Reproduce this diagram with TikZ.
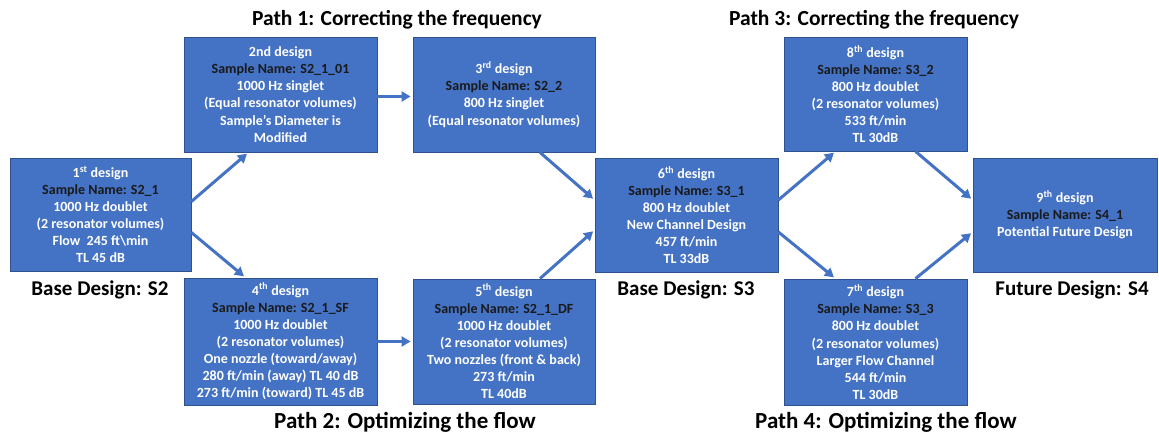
\documentclass[tikz,border=0pt]{standalone}
\usepackage{fontspec}
\setmainfont{Carlito}
\usepackage{tikz}
\usetikzlibrary{arrows.meta}

\definecolor{boxblue}{HTML}{4472C4}
\definecolor{boxedge}{HTML}{2F528F}
\definecolor{namedark}{HTML}{1A1A1A}

\newcommand{\sname}[1]{{\color{namedark}Sample Name: #1}}

\tikzset{
  design/.style={draw=boxedge, fill=boxblue, line width=0.8pt, text=white,
    font=\bfseries\fontsize{14}{17.1}\selectfont, align=center, inner sep=0pt},
  flow/.style={draw=boxblue, line width=3pt, shorten >=2pt, -{Triangle[length=9pt,width=10pt]}},
  bigtitle/.style={font=\bfseries\fontsize{21}{25}\selectfont},
  pathtitle/.style={font=\bfseries\fontsize{21.5}{25}\selectfont},
  lowtitle/.style={font=\bfseries\fontsize{23}{27}\selectfont}
}

\begin{document}
\begin{tikzpicture}[x=1pt,y=-1pt]
  \useasboundingbox (0,0) rectangle (1159,435);

  % Base design S2
  \node[design, minimum width=181pt, minimum height=113pt] (d1) at (100.5,214.5)
    {1\textsuperscript{st} design\\ \sname{S2\_1}\\ 1000 Hz doublet\\ (2 resonator volumes)\\ Flow\ \ 245 ft\textbackslash min\\ TL 45 dB};
  \node[bigtitle] (lblS2) at (100,290) {Base Design: S2};

  % Path 1
  \node[design, minimum width=193pt, minimum height=115pt] (d2) at (280.5,94.5)
    {2nd design\\ \sname{S2\_1\_01}\\ 1000 Hz singlet\\ (Equal resonator volumes)\\ Sample’s Diameter is\\ Modified};
  \node[design, minimum width=182pt, minimum height=115pt] (d3) at (504,94.5)
    {3\textsuperscript{rd} design\\ \sname{S2\_2}\\ 800 Hz singlet\\ (Equal resonator volumes)};
  \node[pathtitle] (lblP1) at (397,20) {Path 1: Correcting the frequency};

  % Path 2
  \node[design, minimum width=193pt, minimum height=127pt] (d4) at (280.5,341.5)
    {4\textsuperscript{th} design\\ \sname{S2\_1\_SF}\\ 1000 Hz doublet\\ (2 resonator volumes)\\ One nozzle (toward/away)\\ 280 ft/min (away) TL 40 dB\\ 273 ft/min (toward) TL 45 dB};
  \node[design, minimum width=182pt, minimum height=125pt] (d5) at (504,341.5)
    {5\textsuperscript{th} design\\ \sname{S2\_1\_DF}\\ 1000 Hz doublet\\ (2 resonator volumes)\\ Two nozzles (front \& back)\\ 273 ft/min\\ TL 40dB};
  \node[lowtitle] (lblP2) at (405,422) {Path 2: Optimizing the flow};

  % Base design S3
  \node[design, minimum width=183pt, minimum height=114pt] (d6) at (686.5,215)
    {6\textsuperscript{th} design\\ \sname{S3\_1}\\ 800 Hz doublet\\ New Channel Design\\ 457 ft/min\\ TL 33dB};
  \node[bigtitle] (lblS3) at (686,290) {Base Design: S3};

  % Path 3 and path 4
  \node[design, minimum width=183pt, minimum height=114pt] (d8) at (875.5,94)
    {8\textsuperscript{th} design\\ \sname{S3\_2}\\ 800 Hz doublet\\ (2 resonator volumes)\\ 533 ft/min\\ TL 30dB};
  \node[pathtitle] (lblP3) at (874,20) {Path 3: Correcting the frequency};
  \node[design, minimum width=183pt, minimum height=126pt] (d7) at (875.5,342)
    {7\textsuperscript{th} design\\ \sname{S3\_3}\\ 800 Hz doublet\\ (2 resonator volumes)\\ Larger Flow Channel\\ 544 ft/min\\ TL 30dB};
  \node[lowtitle] (lblP4) at (886,422) {Path 4: Optimizing the flow};

  % Future design S4
  \node[design, minimum width=184pt, minimum height=114pt] (d9) at (1065,215)
    {9\textsuperscript{th} design\\ \sname{S4\_1}\\ Potential Future Design};
  \node[bigtitle] (lblS4) at (1072,290) {Future Design: S4};

  % Arrows
  \draw[flow] ([yshift=13pt]d1.east) -- ([xshift=-32pt]d2.south);
  \draw[flow] ([yshift=-18pt]d1.east) -- ([xshift=-35pt]d4.north);
  \draw[flow] ([yshift=-2pt]d2.east) -- ([yshift=-2pt]d3.west);
  \draw[flow] (d4.east) -- (d5.west);
  \draw[flow] ([xshift=36pt]d3.south) -- ([yshift=15pt]d6.west);
  \draw[flow] ([xshift=36pt]d5.north) -- ([yshift=-15pt]d6.west);
  \draw[flow] ([yshift=15pt]d6.east) -- ([xshift=-40pt]d8.south);
  \draw[flow] ([yshift=-17pt]d6.east) -- ([xshift=-40pt]d7.north);
  \draw[flow] ([xshift=40pt]d8.south) -- ([yshift=15pt]d9.west);
  \draw[flow] ([xshift=40pt]d7.north) -- ([yshift=-17pt]d9.west);
\end{tikzpicture}
\end{document}
